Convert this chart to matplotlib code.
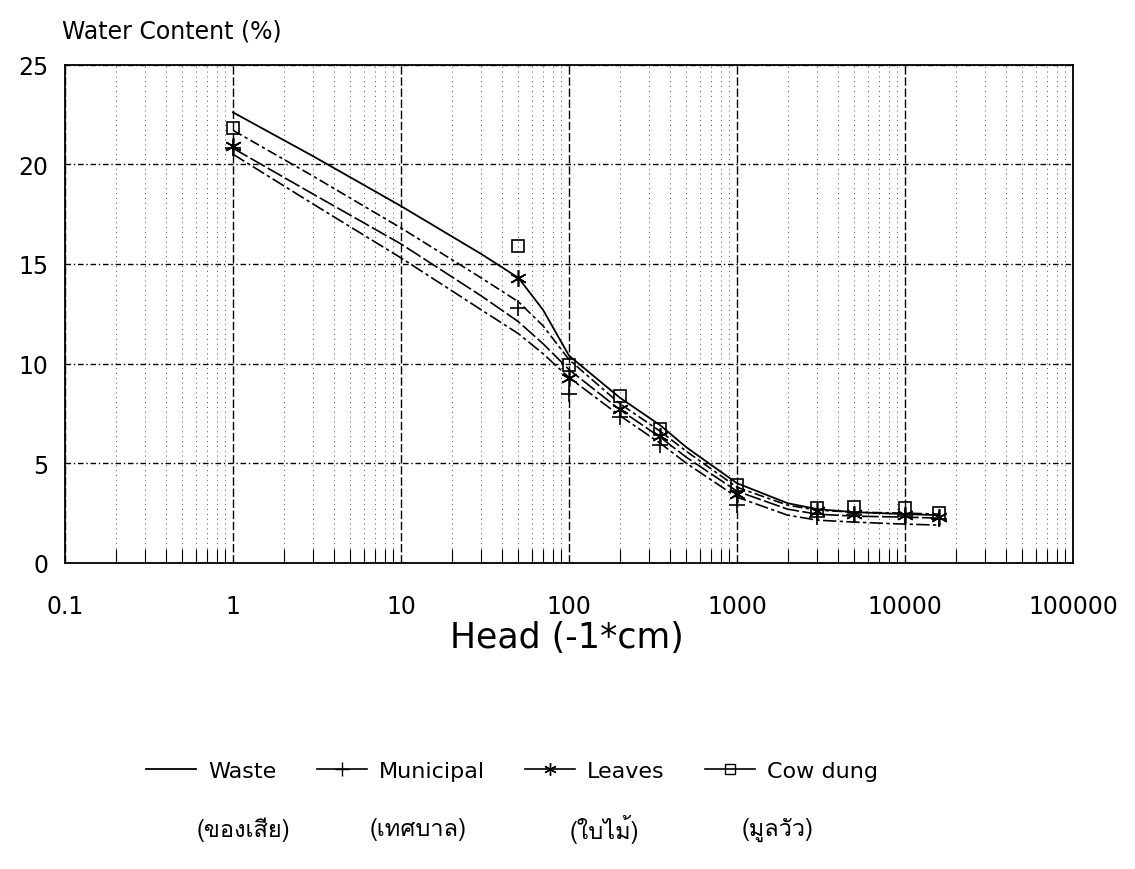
import matplotlib
matplotlib.use('Agg')
import matplotlib.pyplot as plt
import numpy as np
from matplotlib import font_manager
from matplotlib.ft2font import FT2Font
from matplotlib.ticker import NullFormatter, LogLocator

# หา font ที่มีอักษรไทย
thai_font = None
for f in font_manager.fontManager.ttflist:
    try:
        if 0x0E02 in FT2Font(f.fname).get_charmap():
            thai_font = f.name
            break
    except Exception:
        pass
thai_family = [thai_font, 'DejaVu Sans'] if thai_font else ['DejaVu Sans']

# Head (-1*cm) ของจุดวัด
head_pts = [1, 50, 100, 200, 350, 1000, 3000, 5000, 10000, 16000]
municipal_pts = [20.8, 12.8, 8.5, 7.3, 5.9, 2.9, 2.3, 2.4, 2.35, 2.2]
leaves_pts = [20.9, 14.3, 9.3, 7.7, 6.35, 3.45, 2.6, 2.45, 2.4, 2.3]
cowdung_pts = [21.8, 15.9, 9.95, 8.4, 6.7, 3.9, 2.75, 2.8, 2.77, 2.52]

# เส้นโค้งที่ fit แล้ว (อ่านค่าจากกราฟ)
head_fit = [1, 3, 10, 30, 50, 70, 100, 200, 350, 500, 1000, 2000, 3000, 5000, 10000, 16000]
waste_fit = [22.6, 20.4, 17.9, 15.5, 14.3, 12.7, 10.4, 8.3, 6.9, 5.8, 4.0, 3.0, 2.7, 2.55, 2.45, 2.4]
cowdung_fit = [21.7, 19.4, 16.8, 14.3, 13.1, 11.9, 10.2, 8.0, 6.6, 5.6, 3.8, 2.9, 2.65, 2.55, 2.5, 2.45]
leaves_fit = [20.8, 18.5, 16.0, 13.4, 12.1, 11.0, 9.7, 7.7, 6.3, 5.3, 3.6, 2.7, 2.45, 2.35, 2.3, 2.25]
municipal_fit = [20.5, 18.0, 15.3, 12.7, 11.5, 10.5, 9.3, 7.4, 6.0, 5.0, 3.3, 2.4, 2.15, 2.05, 1.95, 1.9]

thai_labels = ['(ของเสีย)', '(เทศบาล)', '(ใบไม้)', '(มูลวัว)']
thai_x = [243, 418, 604, 778]

fig = plt.figure(figsize=(11.35, 8.7), dpi=100)
ax = fig.add_axes([65/1135, 1-564/870, (1073-65)/1135, (564-65.5)/870])

ax.set_xscale('log')
ax.set_xlim(0.1, 100000)
ax.set_ylim(0, 25)

# grid
ax.xaxis.set_minor_locator(LogLocator(base=10, subs=np.arange(2, 10)))
ax.xaxis.set_minor_formatter(NullFormatter())
ax.grid(True, which='minor', axis='x', color='black', linestyle=(0, (1, 4)), linewidth=0.7, alpha=0.7)
ax.grid(True, which='major', axis='x', color='black', linestyle=(0, (6, 2)), linewidth=1.0)
ax.grid(True, which='major', axis='y', color='black', linestyle=(0, (4, 2, 1, 2)), linewidth=1.0)
ax.set_yticks([0, 5, 10, 15, 20, 25])
ax.set_xticks([0.1, 1, 10, 100, 1000, 10000, 100000])
ax.set_xticklabels(['0.1', '1', '10', '100', '1000', '10000', '100000'])
ax.tick_params(axis='both', which='major', length=0, labelsize=17)
ax.tick_params(axis='x', which='major', pad=22)
ax.tick_params(axis='y', which='major', pad=12)
ax.tick_params(axis='x', which='minor', direction='in', length=10, width=0.8)
for s in ax.spines.values():
    s.set_linewidth(1.3)

# เส้นโค้ง
ax.plot(head_fit, waste_fit, color='black', linewidth=1.3)
ax.plot(head_fit, municipal_fit, color='black', linewidth=1.2, linestyle=(0, (8, 2, 2, 2)))
ax.plot(head_fit, leaves_fit, color='black', linewidth=1.2, linestyle=(0, (10, 2)))
ax.plot(head_fit, cowdung_fit, color='black', linewidth=1.2, linestyle=(0, (6, 2, 2, 2)))

# จุดข้อมูล
ax.plot(head_pts, municipal_pts, linestyle='none', marker='+', color='black', markersize=12, markeredgewidth=1.2)
ax.plot(head_pts, leaves_pts, linestyle='none', marker=(6, 2, 0), color='black', markersize=12, markeredgewidth=1.2)
ax.plot(head_pts, cowdung_pts, linestyle='none', marker='s', color='black', markerfacecolor='none', markersize=9, markeredgewidth=1.2)

# legend
h1, = ax.plot([], [], color='black', linewidth=1.3)
h2, = ax.plot([], [], color='black', linewidth=1.2, marker='+', markersize=10)
h3, = ax.plot([], [], color='black', linewidth=1.2, marker=(6, 2, 0), markersize=9)
h4, = ax.plot([], [], color='black', linewidth=1.2, marker='s', markerfacecolor='none', markersize=7)
fig.legend([h1, h2, h3, h4], ['Waste', 'Municipal', 'Leaves', 'Cow dung'],
           loc='center', bbox_to_anchor=(512/1135, 1-772/870), ncol=4, frameon=False,
           fontsize=16, handlelength=2.25, columnspacing=1.8, handletextpad=0.55)

fig.text(62/1135, 1-32/870, 'Water Content (%)', fontsize=17, ha='left', va='center')
fig.text(567/1135, 1-638/870, 'Head (-1*cm)', fontsize=25, ha='center', va='center')

for lbl, xp in zip(thai_labels, thai_x):
    fig.text(xp/1135, 1-830/870, lbl, fontsize=17, ha='center', va='center', family=thai_family)

fig.savefig('out.png', dpi=100)
